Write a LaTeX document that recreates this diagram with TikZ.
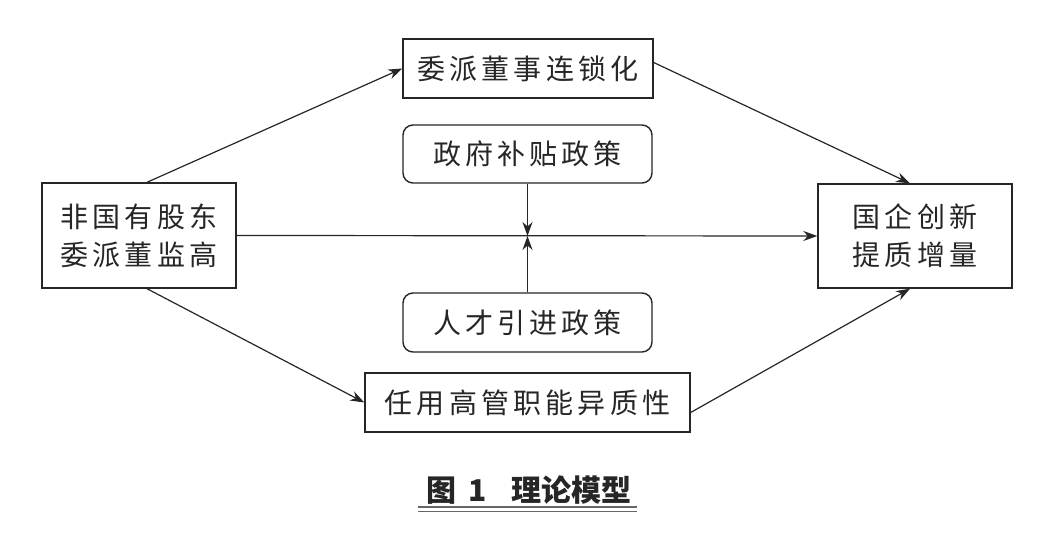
\documentclass[tikz,border=0pt]{standalone}
\usepackage{fontspec}
\setmainfont{Noto Sans CJK SC}
\usetikzlibrary{arrows.meta,calc}
\definecolor{ink}{HTML}{262626}
\begin{document}
\begin{tikzpicture}[x=1pt,y=-1pt,
  box/.style={draw=ink,line width=1.4pt,inner sep=0pt,align=center,text=ink,
    font=\fontsize{28}{38}\selectfont\addfontfeatures{LetterSpace=15}},
  rbox/.style={box,rounded corners=10pt},
  conn/.style={draw=ink,line width=1.2pt,-{Stealth[length=14pt,width=10pt,inset=4.5pt]}}]
\useasboundingbox (0,0) rectangle (1061,537);
\fill[white] (0,0) rectangle (1061,537);
\node[box,minimum width=194pt,minimum height=105pt] (L) at (139,235.5) {非国有股东\\委派董监高};
\node[box,minimum width=250pt,minimum height=59pt] (T) at (528,68.5) {委派董事连锁化};
\node[rbox,minimum width=249pt,minimum height=58pt] (G) at (527.5,154) {政府补贴政策};
\node[rbox,minimum width=249pt,minimum height=59pt] (P) at (527.5,322.5) {人才引进政策};
\node[box,minimum width=325pt,minimum height=59pt] (B) at (527.5,402.5) {任用高管职能异质性};
\node[box,minimum width=194pt,minimum height=104pt] (R) at (915,236) {国企创新\\提质增量};
\coordinate (X) at (527.5,236);
\draw[conn] ([xshift=8pt]L.north) -- (T.west);
\draw[conn] ([yshift=6pt]T.east) -- ([xshift=-5pt]R.north);
\draw[conn] ([xshift=8pt]L.south) -- (B.west);
\draw[conn] ([yshift=-10pt]B.east) -- ([xshift=-5pt]R.south);
\draw[conn] (L.east) -- (R.west);
\draw[conn] (G.south) -- (X);
\draw[conn] (P.north) -- (X);
\node[text=ink,inner sep=0pt,font=\fontsize{30}{34}\selectfont\bfseries] (C) at (529,490) {图\hspace{0.4em}1\hspace{0.8em}理论模型};
\draw[draw=gray!80!black,line width=1.6pt] (418,507) -- (637,507);
\draw[draw=gray!80!black,line width=1pt] (418,511) -- (637,511);
\end{tikzpicture}
\end{document}
